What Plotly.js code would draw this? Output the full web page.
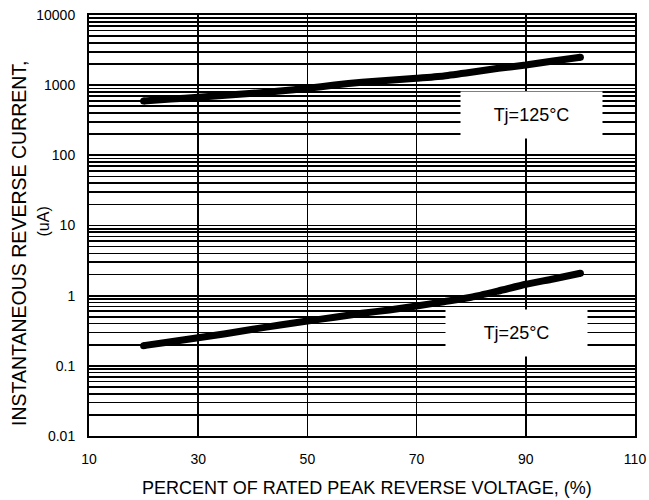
<!DOCTYPE html>
<html>
<head>
<meta charset="utf-8">
<script src="https://cdn.plot.ly/plotly-3.0.1.min.js"></script>
<style>html,body{margin:0;padding:0;background:#fff;}#chart{width:649px;height:500px;}</style>
</head>
<body>
<div id="chart"></div>
<script>
// Data
const percentRated = [20,25,30,35,40,45,50,55,60,65,70,75,80,85,90,95,100];
const current125 = [595,635,671,717,766,826,902,1005,1099,1174,1253,1352,1525,1739,1938,2210,2495];
const current25 = [0.194,0.221,0.252,0.287,0.332,0.382,0.436,0.492,0.561,0.625,0.713,0.821,0.948,1.166,1.453,1.729,2.084];

const xTickVals = [10,30,50,70,90,110];
const xTickText = ['10','30','50','70','90','110'];
const yDecades = [0.01,0.1,1,10,100,1000,10000];
const yDecadeLabels = ['0.01','0.1','1','10','100','1000','10000'];
const seriesLabels = ['Tj=125°C','Tj=25°C'];
const xTitle = 'PERCENT OF RATED PEAK REVERSE VOLTAGE, (%)';
const yTitle1 = 'INSTANTANEOUS REVERSE CURRENT,';
const yTitle2 = '(uA)';

// grid values: 1..9 times each decade
const yGridVals = [], yGridText = [];
yDecades.forEach((d, i) => {
  if (i === yDecades.length - 1) { yGridVals.push(d); yGridText.push(yDecadeLabels[i]); return; }
  for (let m = 1; m <= 9; m++) {
    yGridVals.push(+(d * m).toPrecision(6));
    yGridText.push(m === 1 ? yDecadeLabels[i] : '');
  }
});

const FONT = 'Liberation Sans, Arial, sans-serif';
const lineStyle = {color: '#000', width: 7, shape: 'spline', smoothing: 0.6};
const last = percentRated.length - 1;

const traces = [
  {x: percentRated, y: current125, mode: 'lines', line: lineStyle, hoverinfo: 'skip'},
  {x: percentRated, y: current25, mode: 'lines', line: lineStyle, hoverinfo: 'skip'},
  {x: [percentRated[0], percentRated[last], percentRated[0], percentRated[last]],
   y: [current125[0], current125[last], current25[0], current25[last]],
   mode: 'markers', marker: {color: '#000', size: 7}, hoverinfo: 'skip'}
];

function ann(o) {
  return Object.assign({xref: 'paper', yref: 'paper', showarrow: false, xanchor: 'center', yanchor: 'middle'}, o);
}

const layout = {
  width: 649, height: 500,
  margin: {l: 89, r: 14, t: 15, b: 64},
  paper_bgcolor: '#fff', plot_bgcolor: '#fff',
  showlegend: false,
  font: {family: FONT, size: 14, color: '#000'},
  xaxis: {
    range: [10, 110], tickmode: 'array', tickvals: xTickVals, ticktext: xTickText,
    showgrid: true, gridcolor: '#000', gridwidth: 1.7,
    showline: true, linecolor: '#000', linewidth: 2, mirror: true,
    ticks: 'outside', ticklen: 9, tickcolor: 'rgba(0,0,0,0)',
    zeroline: false, tickfont: {family: FONT, size: 14, color: '#000'}
  },
  yaxis: {
    type: 'log', range: [-2, 4], tickmode: 'array', tickvals: yGridVals, ticktext: yGridText,
    showgrid: true, gridcolor: '#000', gridwidth: 1.7,
    showline: true, linecolor: '#000', linewidth: 2, mirror: true,
    ticks: 'outside', ticklen: 9, tickcolor: 'rgba(0,0,0,0)',
    zeroline: false, tickfont: {family: FONT, size: 14, color: '#000'}
  },
  annotations: [
    ann({x: (531.5 - 89) / 546, y: 1 - (115 - 15) / 421, text: seriesLabels[0],
     bgcolor: '#fff', width: 141, height: 46, borderpad: 0, font: {family: FONT, size: 18, color: '#000'}}),
    ann({x: (516.3 - 89) / 546, y: 1 - (333 - 15) / 421, text: seriesLabels[1],
     bgcolor: '#fff', width: 141, height: 46, borderpad: 0, font: {family: FONT, size: 18, color: '#000'}}),
    ann({x: (367 - 89) / 546, y: 1 - (488 - 15) / 421, text: xTitle,
     font: {family: FONT, size: 18, color: '#000'}}),
    ann({x: (19 - 89) / 546, y: 1 - (243 - 15) / 421, text: yTitle1,
     textangle: -90, font: {family: FONT, size: 19.5, color: '#000'}}),
    ann({x: (42.5 - 89) / 546, y: 1 - (222 - 15) / 421, text: yTitle2,
     textangle: -90, font: {family: FONT, size: 16, color: '#000'}})
  ]
};

Plotly.newPlot('chart', traces, layout, {displayModeBar: false, staticPlot: true});
</script>
</body>
</html>
